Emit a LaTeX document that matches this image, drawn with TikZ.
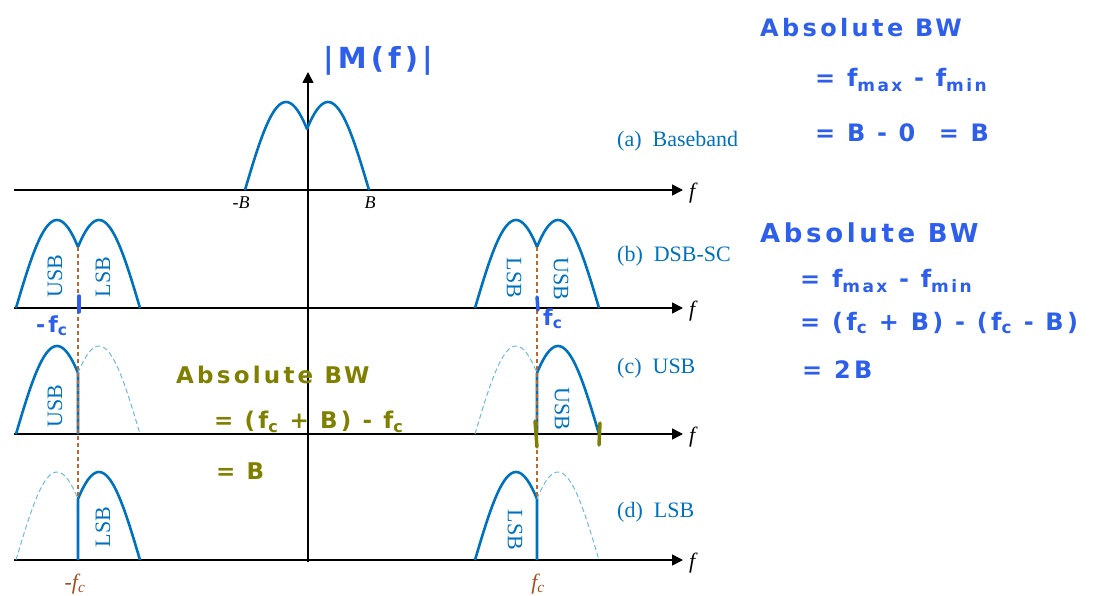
\documentclass[tikz,border=0pt]{standalone}
\usepackage{fontspec}
\setmainfont{Liberation Serif}
\newfontfamily\handfont[LetterSpace=14]{DejaVu Sans}
\newcommand{\hsub}[1]{\raisebox{-0.45ex}{\fontsize{17}{17}\selectfont #1}}
\usepackage{tikz}
\usetikzlibrary{arrows.meta,positioning,calc}
\definecolor{specblue}{RGB}{0,114,189}
\definecolor{ghostblue}{RGB}{110,185,220}
\definecolor{carrierbrown}{RGB}{185,105,45}
\definecolor{labelbrown}{RGB}{160,80,30}
\definecolor{inkblue}{RGB}{45,95,235}
\definecolor{inkolive}{RGB}{128,128,0}
\tikzset{
  freqaxis/.style={-{Triangle[length=11pt,width=11pt]}, line width=1.6pt},
  specline/.style={specblue, line width=2.6pt, line join=round},
  ghostline/.style={ghostblue, line width=1pt, dash pattern=on 5pt off 3pt},
  carrierline/.style={carrierbrown, line width=1.4pt, dash pattern=on 4pt off 3pt},
  bandlabel/.style={specblue, anchor=west, inner sep=0pt, font=\fontsize{22}{22}\selectfont},
  sidelabel/.style={specblue, inner sep=0pt, font=\fontsize{22}{22}\selectfont},
  axislabel/.style={inner sep=0pt, font=\fontsize{22}{22}\selectfont\itshape},
  ticklabel/.style={inner sep=0pt, font=\fontsize{18}{18}\selectfont\itshape},
  carrierlabel/.style={labelbrown, inner sep=0pt, font=\fontsize{22}{22}\selectfont\itshape},
  handblue/.style={inkblue, anchor=west, inner sep=0pt, font=\handfont\bfseries\fontsize{24}{24}\selectfont},
  handolive/.style={inkolive, anchor=west, inner sep=0pt, font=\handfont\bfseries\fontsize{23}{23}\selectfont},
  handtick/.style={line width=3.5pt, line cap=round}
}

\begin{document}
\begin{tikzpicture}[x=1pt, y=-1pt, declare function={hump(\d)=88*sin(180*\d/82);}]
  \useasboundingbox (0,0) rectangle (1097,596);

  % axes
  \foreach \y/\n in {190/a,308/b,434/c,560/d} {
    \coordinate (s\n) at (14,\y);
    \coordinate (e\n) at (683,\y);
    \draw[freqaxis] (s\n) -- (e\n);
    \node[axislabel, right=6pt of e\n, yshift=-3pt] (f\n) {f};
  }
  \coordinate (vbot) at (308,562);
  \coordinate (vtop) at (308,72);
  \draw[freqaxis] (vbot) -- (vtop);

  % (a) baseband
  \draw[specline] plot[domain=0:62, samples=40] ({245+\x},{190-hump(\x)})
    -- plot[domain=62:0, samples=40] ({369-\x},{190-hump(\x)});
  \node[ticklabel] (mB) at (241,203) {-B};
  \node[ticklabel] (pB) at (370,203) {B};

  % (b) DSB-SC
  \foreach \c in {78,537} {
    \draw[specline] plot[domain=0:62, samples=40] ({\c-62+\x},{308-hump(\x)})
      -- plot[domain=62:0, samples=40] ({\c+62-\x},{308-hump(\x)});
  }

  % (c) USB
  \draw[specline] plot[domain=0:62, samples=40] ({16+\x},{434-hump(\x)}) -- (78,434);
  \draw[ghostline] plot[domain=62:0, samples=40] ({140-\x},{434-hump(\x)});
  \draw[specline] (537,434) -- plot[domain=62:0, samples=40] ({599-\x},{434-hump(\x)});
  \draw[ghostline] plot[domain=0:62, samples=40] ({475+\x},{434-hump(\x)});

  % (d) LSB
  \draw[ghostline] plot[domain=0:62, samples=40] ({16+\x},{560-hump(\x)});
  \draw[specline] (78,560) -- plot[domain=62:0, samples=40] ({140-\x},{560-hump(\x)});
  \draw[specline] plot[domain=0:62, samples=40] ({475+\x},{560-hump(\x)}) -- (537,560);
  \draw[ghostline] plot[domain=62:0, samples=40] ({599-\x},{560-hump(\x)});

  % carrier markers
  \foreach \c in {78,537} {
    \draw[carrierline] (\c,{308-hump(62)}) -- (\c,{560-hump(62)});
  }
  \node[carrierlabel] (mfc) at (75,584) {-f\textsubscript{c}};
  \node[carrierlabel] (pfc) at (538,584) {f\textsubscript{c}};

  % sideband names
  \node[sidelabel, rotate=90] (bu1) at (55,276) {USB};
  \node[sidelabel, rotate=90] (bl1) at (103,277) {LSB};
  \node[sidelabel, rotate=-90] (bl2) at (514,278) {LSB};
  \node[sidelabel, rotate=-90] (bu2) at (561,279) {USB};
  \node[sidelabel, rotate=90] (cu1) at (55,406) {USB};
  \node[sidelabel, rotate=-90] (cu2) at (562,409) {USB};
  \node[sidelabel, rotate=90] (dl1) at (103,527) {LSB};
  \node[sidelabel, rotate=-90] (dl2) at (515,530) {LSB};

  \node[bandlabel] (lba) at (617,141) {(a)\enspace Baseband};
  \node[bandlabel] (lbb) at (617,256) {(b)\enspace DSB-SC};
  \node[bandlabel] (lbc) at (617,368) {(c)\enspace USB};
  \node[bandlabel] (lbd) at (617,512) {(d)\enspace LSB};

  % handwritten notes
  \node[handblue, font=\handfont\bfseries\fontsize{29}{29}\selectfont] (mag) at (323,61) {|M(f)|};
  \node[handblue] (bw1) at (760,28) {Absolute BW};
  \node[handblue] (bw1a) at (815,80) {= f\hsub{max} - f\hsub{min}};
  \node[handblue] (bw1b) at (815,133) {= B - 0\ \ = B};
  \node[handblue, font=\handfont\bfseries\fontsize{26}{26}\selectfont] (bw2) at (760,233) {Absolute BW};
  \node[handblue] (bw2a) at (800,281) {= f\hsub{max} - f\hsub{min}};
  \node[handblue] (bw2b) at (800,323) {= (f\textsubscript{c} + B) - (f\textsubscript{c} - B)};
  \node[handblue] (bw2c) at (802,370) {= 2B};
  \node[handblue, font=\handfont\bfseries\fontsize{22}{22}\selectfont] (hmfc) at (36,326) {-f\textsubscript{c}};
  \node[handblue, font=\handfont\bfseries\fontsize{22}{22}\selectfont] (hpfc) at (543,319) {f\textsubscript{c}};
  \draw[handtick, inkblue] (79,296) -- (79,312);
  \draw[handtick, inkblue] (537,297) -- (538,310);

  \node[handolive] (bw3) at (176,375) {Absolute BW};
  \node[handolive] (bw3a) at (214,422) {= (f\textsubscript{c} + B) - f\textsubscript{c}};
  \node[handolive] (bw3b) at (216,471) {= B};
  \draw[handtick, inkolive] (535,421) -- (537,447);
  \draw[handtick, inkolive] (600,423) -- (599,445);
\end{tikzpicture}
\end{document}
